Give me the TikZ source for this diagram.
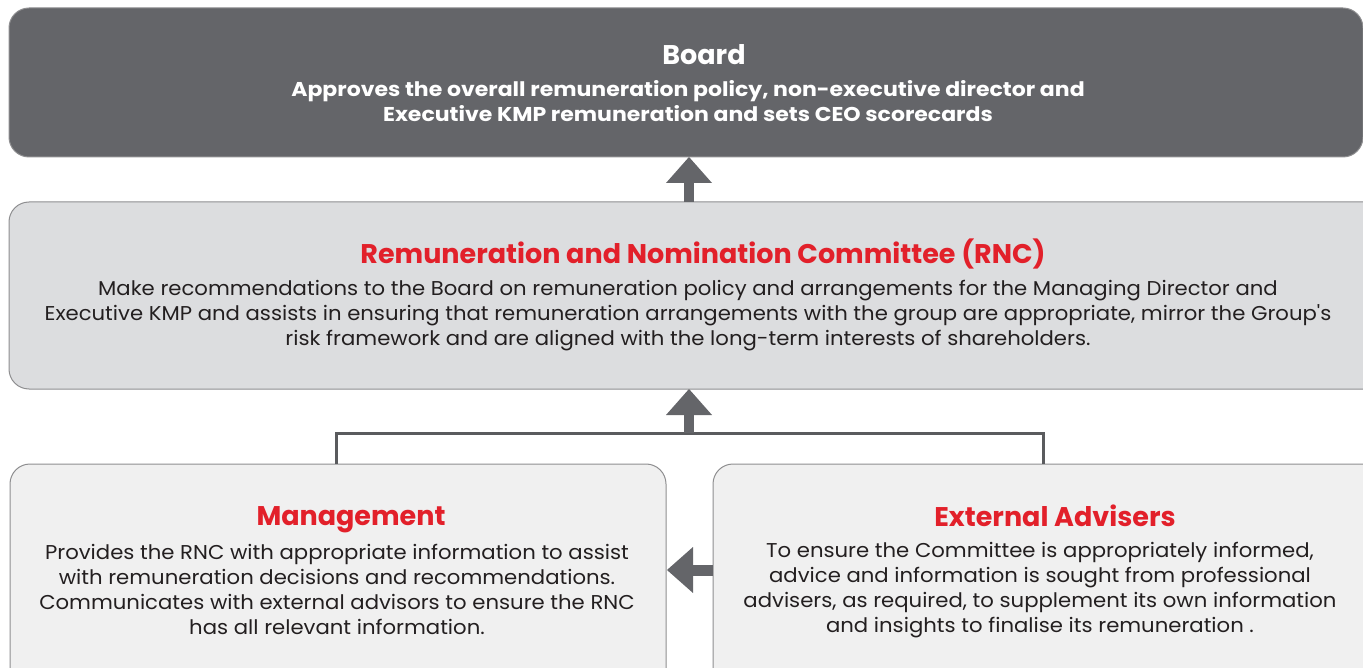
\documentclass[tikz,border=0pt]{standalone}
\usepackage{fontspec}
\setmainfont{Poppins}
\newfontfamily\bodyfont[FakeStretch=1.06]{Poppins}
\newfontfamily\subfont[FakeStretch=1.10]{Poppins}
\definecolor{boardfill}{HTML}{646569}
\definecolor{rncfill}{HTML}{DCDDDF}
\definecolor{lowfill}{HTML}{F0F0F0}
\definecolor{edge}{HTML}{8E8E90}
\definecolor{arrowc}{HTML}{646569}
\definecolor{titlered}{HTML}{E2202A}
\definecolor{bodytext}{HTML}{231F20}
\tikzset{
  box/.style={draw=edge, line width=1pt, rounded corners=20pt, inner sep=0pt},
  title/.style={font=\bfseries\fontsize{27}{27}\selectfont, text=titlered, inner sep=0pt, anchor=center},
  body/.style={font=\bodyfont\fontsize{20}{25}\selectfont, text=bodytext, align=center, inner sep=0pt, anchor=center},
  shaft/.style={draw=arrowc, line width=10pt},
  head/.style={fill=arrowc},
  link/.style={draw=arrowc!90!black, line width=3pt},
}
\begin{document}
\begin{tikzpicture}[x=1pt,y=-1pt]
\useasboundingbox (0,0) rectangle (1363,668);
\clip (0,0) rectangle (1363,668);
% boxes
\node[box, fill=boardfill, minimum width=1354pt, minimum height=149pt] (board) at (686,82.5) {};
\node[box, fill=rncfill, minimum width=1380pt, minimum height=187pt] (rnc) at (699,295.5) {};
\node[box, fill=lowfill, minimum width=656pt, minimum height=240pt] (mgmt) at (338,584) {};
\node[box, fill=lowfill, minimum width=680pt, minimum height=240pt] (ext) at (1053,584) {};
% texts
\node[font=\bfseries\fontsize{27}{27}\selectfont, text=white, inner sep=0pt] (boardt) at (704,55) {Board};
\node[font=\subfont\bfseries\fontsize{20}{25}\selectfont, text=white, align=center, inner sep=0pt] (boards) at (688,101) {Approves the overall remuneration policy, non-executive director and\\Executive KMP remuneration and sets CEO scorecards};
\node[title] (rnct) at (703,254) {Remuneration and Nomination Committee (RNC)};
\node[body] (rncb) at (688,316) {Make recommendations to the Board on remuneration policy and arrangements for the Managing Director and\\Executive KMP and assists in ensuring that remuneration arrangements with the group are appropriate, mirror the Group's\\risk framework and are aligned with the long-term interests of shareholders.};
\node[title] (mgmtt) at (351,520) {Management};
\node[body] (mgmtb) at (337,589) {Provides the RNC with appropriate information to assist\\with remuneration decisions and recommendations.\\Communicates with external advisors to ensure the RNC\\has all relevant information.};
\node[title] (extt) at (1055,516) {External Advisers};
\node[body] (extb) at (1040,590) {To ensure the Committee is appropriately informed,\\advice and information is sought from professional\\advisers, as required, to supplement its own information\\and insights to finalise its remuneration .};
% coordinates
\coordinate (t1) at (689,157);
\coordinate (b1) at (689,202);
\coordinate (t2) at (689,389);
\coordinate (b2) at (689,433);
\coordinate (jl) at (336,433);
\coordinate (jr) at (1043,433);
\coordinate (t3) at (667,570);
\coordinate (b3) at (713,570);
% connectors
\draw[link] (mgmt.north -| jl) -- (jl) -- (jr) -- (ext.north -| jr);
\draw[shaft] (b1) -- ([yshift=-20pt]t1);
\fill[head] (t1) -- ++(-23,26) -- ++(46,0) -- cycle;
\draw[shaft] (b2) -- ([yshift=-20pt]t2);
\fill[head] (t2) -- ++(-23,26) -- ++(46,0) -- cycle;
\draw[arrowc, line width=11pt] (b3) -- ([xshift=20pt]t3);
\fill[head] (t3) -- ++(26,-23) -- ++(0,46) -- cycle;
\end{tikzpicture}
\end{document}
